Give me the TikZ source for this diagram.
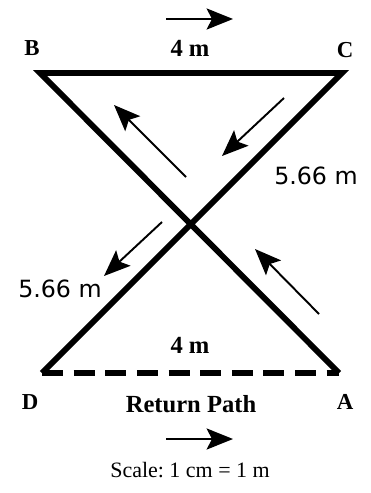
\documentclass[tikz,border=0pt]{standalone}
\usepackage{fontspec}
\setmainfont{Liberation Serif}
\newfontfamily\cifras{DejaVu Sans}
\usetikzlibrary{arrows.meta}
\tikzset{>={Stealth[length=15pt, width=12pt, inset=3pt]}}
\begin{document}
\begin{tikzpicture}[
    x=0.02cm, y=-0.02cm,
    lado/.style={line width=3.3pt, line join=miter},
    retorno/.style={line width=3.3pt, dash pattern=on 12pt off 6pt},
    flecha/.style={line width=1.1pt, ->},
    vertice/.style={font=\bfseries\fontsize{13}{15}\selectfont, inner sep=1pt},
    medida/.style={font=\bfseries\fontsize{14}{16}\selectfont, inner sep=1pt},
    diagonal/.style={font=\cifras\fontsize{13.5}{16}\selectfont, inner sep=1pt}
  ]
  \useasboundingbox (0,0) rectangle (371,493);

  % --- vértices del recorrido ---
  \coordinate (B) at (40,73);
  \coordinate (C) at (342,73);
  \coordinate (D) at (42,373);
  \coordinate (A) at (339,373);

  % --- lados y camino de vuelta ---
  \draw[lado] (A) -- (B) -- (C) -- (D);
  \draw[retorno] (D) -- (A);

  % --- rótulos ---
  \node[vertice] (lB) at (32,48) {B};
  \node[vertice] (lC) at (345,50) {C};
  \node[vertice] (lD) at (30,402) {D};
  \node[vertice] (lA) at (345,402) {A};
  \node[medida] (arriba) at (190,48) {4 m};
  \node[medida] (abajo) at (190,345) {4 m};
  \node[diagonal] (diagD) at (316,176) {5.66 m};
  \node[diagonal] (diagI) at (60,289) {5.66 m};
  \node[medida] (vuelta) at (191,404) {Return Path};
  \node[font=\fontsize{12.5}{15}\selectfont] (escala) at (190,470) {Scale:\ 1 cm = 1 m};

  % --- sentido del recorrido ---
  \foreach \n/\xa/\ya/\xb/\yb in {s/166/19/233/19, i/166/439/233/439,
      bi/186/177/114/105, cd/284/98/222/156, ci/162/222/104/276, ad/319/314/255/249}{
    \coordinate (t\n) at (\xa,\ya);
    \coordinate (p\n) at (\xb,\yb);
    \draw[flecha] (t\n) -- (p\n);
  }
\end{tikzpicture}
\end{document}
